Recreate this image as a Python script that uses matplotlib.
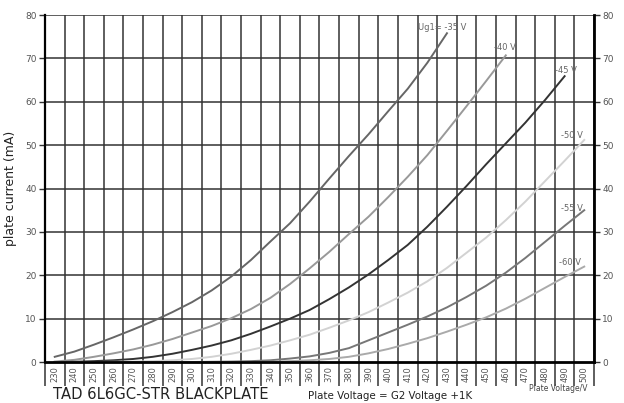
import numpy as np
import matplotlib
matplotlib.use("Agg")
import matplotlib.pyplot as plt

volts = list(range(230, 510, 10))

# plate current (mA) per grid voltage, read at each plate voltage
ug35 = [1.2, 2.4, 4.0, 5.7, 7.5, 9.4, 11.5, 13.8, 16.5, 19.7, 23.5, 27.8, 32.0, 37.0,
        42.3, 47.5, 52.5, 57.8, 63.0, 69.0, 75.8]
ug40 = [0.1, 0.5, 1.2, 2.0, 2.9, 4.0, 5.3, 6.8, 8.3, 10.1, 12.2, 14.8, 18.0, 21.6,
        25.4, 29.5, 33.5, 38.0, 42.7, 47.7, 53.3, 59.0, 64.8, 70.7]
ug45 = [0.0, 0.05, 0.2, 0.4, 0.7, 1.2, 1.9, 2.8, 3.8, 5.0, 6.5, 8.2, 10.0, 12.0,
        14.5, 17.2, 20.2, 23.5, 27.0, 31.2, 35.8, 40.6, 45.6, 50.4, 55.2, 60.4, 65.9]
ug50 = [0.0, 0.0, 0.0, 0.05, 0.1, 0.2, 0.4, 0.7, 1.2, 1.9, 2.8, 3.8, 5.0, 6.3,
        7.9, 9.6, 11.5, 13.7, 16.0, 18.6, 21.7, 25.2, 28.7, 32.7, 37.0, 41.7, 46.4, 51.2]
ug55 = [0.0, 0.0, 0.0, 0.0, 0.0, 0.0, 0.0, 0.0, 0.05, 0.1, 0.2, 0.4, 0.8, 1.3,
        2.1, 3.2, 5.0, 6.8, 8.6, 10.5, 12.6, 15.0, 17.6, 20.6, 24.0, 27.7, 31.4, 35.0]
ug60 = [0.0, 0.0, 0.0, 0.0, 0.0, 0.0, 0.0, 0.0, 0.0, 0.0, 0.0, 0.05, 0.2, 0.4,
        0.7, 1.2, 2.0, 3.0, 4.2, 5.5, 7.0, 8.6, 10.3, 12.3, 14.6, 17.1, 19.6, 22.0]

series = [
    (ug35, "#666666", "Ug1= -35 V", (18.5, 77.2)),
    (ug40, "#999999", "-40 V", (22.4, 72.4)),
    (ug45, "#333333", "-45 V", (25.5, 67.3)),
    (ug50, "#d2d2d2", "-50 V", (25.8, 52.3)),
    (ug55, "#777777", "-55 V", (25.8, 35.5)),
    (ug60, "#aaaaaa", "-60 V", (25.7, 22.9)),
]

fig = plt.figure(figsize=(6.24, 4.03), dpi=100)
ax = fig.add_axes([0.072, 0.1017, 0.880, 0.861])

n = len(volts)
ax.set_xlim(-0.5, n - 0.5)
ax.set_ylim(0, 80)

# grid
for k in range(n + 1):
    ax.axvline(k - 0.5, color="#333333", lw=1.1, zorder=1)
for yv in range(10, 90, 10):
    ax.axhline(yv, color="#333333", lw=1.1, zorder=1)

for vals, col, lab, pos in series:
    ax.plot(range(len(vals)), vals, color=col, lw=1.4, zorder=3)
    ax.text(pos[0], pos[1], lab, fontsize=6, color="#666666", ha="left", va="center", zorder=4)

ax.spines["top"].set_visible(False)
ax.spines["left"].set_linewidth(1.6)
ax.spines["right"].set_linewidth(2.0)
ax.spines["bottom"].set_linewidth(2.0)
ax.spines["bottom"].set_zorder(5)

ax.set_yticks(range(0, 90, 10))
ax.tick_params(axis="y", labelsize=6.5, labelcolor="#555555", length=4, width=1, color="#333333",
               right=True, labelright=True, pad=2)

# x labels at category centres, long ticks at boundaries
ax.set_xticks(range(n))
ax.set_xticklabels([str(v) for v in volts], rotation=90, fontsize=6, color="#555555")
ax.tick_params(axis="x", length=0, pad=3)
ax.set_xticks([k - 0.5 for k in range(n + 1)], minor=True)
ax.tick_params(axis="x", which="minor", length=17, width=1.1, color="#333333")

ax.set_ylabel("plate current (mA)", fontsize=9, color="#222222", labelpad=6)

fig.text(0.085, 0.022, "TAD 6L6GC-STR BLACKPLATE", fontsize=10.6, color="#222222", va="center")
fig.text(0.494, 0.017, "Plate Voltage = G2 Voltage +1K", fontsize=7.4, color="#222222", va="center")
fig.text(0.941, 0.037, "Plate Voltage/V", fontsize=5.5, color="#444444", ha="right", va="center")

fig.savefig("out.png", dpi=100)
